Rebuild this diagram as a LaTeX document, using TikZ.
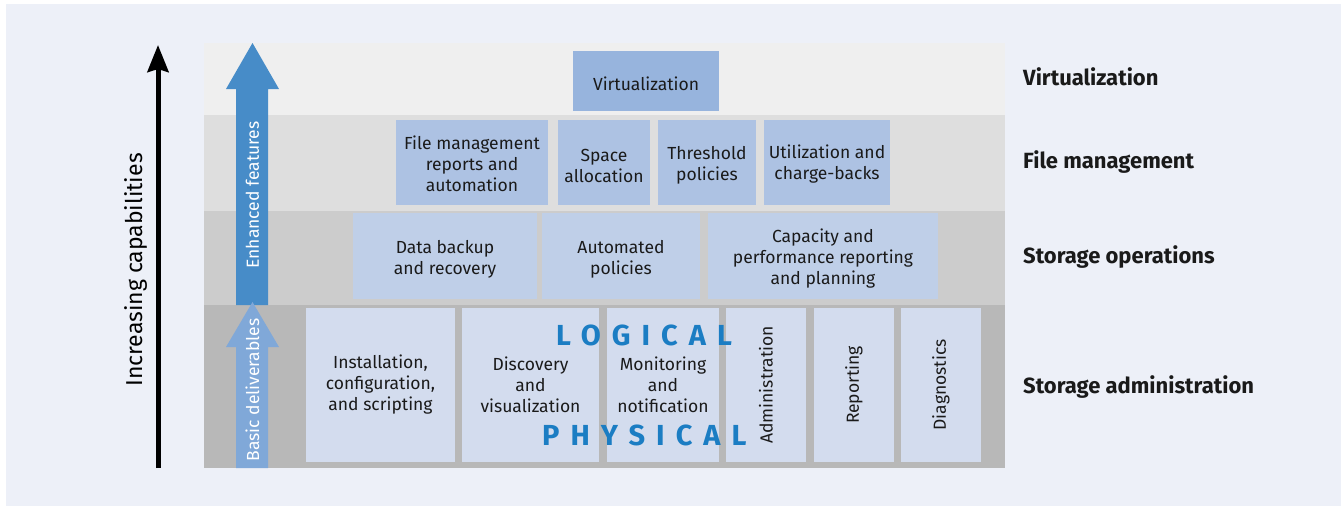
\documentclass[tikz,border=0pt]{standalone}
\usepackage{fontspec}
\setmainfont{Fira Sans}
\usetikzlibrary{arrows.meta}
\definecolor{panel}{HTML}{EDF0F8}
\definecolor{bandA}{HTML}{EFEFEF}
\definecolor{bandB}{HTML}{DEDEDE}
\definecolor{bandC}{HTML}{CCCCCC}
\definecolor{bandD}{HTML}{B8B8B8}
\definecolor{virtc}{HTML}{97B4DD}
\definecolor{fmc}{HTML}{ADC2E3}
\definecolor{soc}{HTML}{BFCFE8}
\definecolor{sac}{HTML}{D3DCEE}
\definecolor{enh}{HTML}{478CC8}
\definecolor{bas}{HTML}{80A8D8}
\definecolor{logic}{HTML}{1B7DC3}
\definecolor{txt}{HTML}{1A1A1A}
\newcommand\lowr{\rule{0pt}{19pt}}
\begin{document}
\begin{tikzpicture}[x=1pt,y=-1pt,
  boxtext/.style={inner sep=0pt, align=center, text=txt, font=\fontsize{17.5}{21}\selectfont},
  vbox/.style={boxtext, fill=virtc},
  fmbox/.style={boxtext, fill=fmc},
  sobox/.style={boxtext, fill=soc},
  sabox/.style={boxtext, fill=sac},
  layerlabel/.style={anchor=base west, inner sep=0pt, text=txt, font=\fontsize{22}{22}\selectfont\bfseries},
  arrowtext/.style={rotate=90, inner sep=0pt, text=white, font=\fontsize{17.5}{21}\selectfont},
  bigword/.style={anchor=base west, inner sep=0pt, text=logic, font=\fontsize{29}{29}\selectfont\bfseries\addfontfeatures{LetterSpace=38}}
]
\useasboundingbox (0,0) rectangle (1341,506);
\fill[white] (0,0) rectangle (1341,506);
\fill[panel] (6,4) rectangle (1341,506);
% bands
\fill[bandA] (204,43) rectangle (1005,115);
\fill[bandB] (204,115) rectangle (1005,211);
\fill[bandC] (204,211) rectangle (1005,305);
\fill[bandD] (204,305) rectangle (1005,468);
% block arrows
\fill[enh] (236,305) -- (236,89) -- (226,89) -- (252.5,43) -- (279,89) -- (268,89) -- (268,305) -- cycle;
\fill[bas] (236,468) -- (236,347) -- (226,347) -- (252.5,302) -- (279,347) -- (268,347) -- (268,468) -- cycle;
\node[arrowtext] (enht) at (252.5,195) {Enhanced features};
\node[arrowtext] (bast) at (252.5,390) {Basic deliverables};
% black arrow
\coordinate (capb) at (158,468);
\coordinate (capt) at (158,45);
\draw[line width=5pt, -{Stealth[width=21pt,length=27pt,inset=3pt]}] (capb) -- (capt);
\node[rotate=90, inner sep=0pt, text=black, font=\fontsize{23}{23}\selectfont] (incr) at (136,270) {Increasing capabilities};
% virtualization
\node[vbox, minimum width=146, minimum height=60] (virt) at (646,81) {\lowr Virtualization};
% file management
\node[fmbox, minimum width=152, minimum height=85] (fm1) at (472,162.5) {\rule{0pt}{16pt}File management\\reports and\\automation};
\node[fmbox, minimum width=92, minimum height=85] (fm2) at (604,162.5) {\lowr Space\\allocation};
\node[fmbox, minimum width=98, minimum height=85] (fm3) at (707,162.5) {\lowr Threshold\\policies};
\node[fmbox, minimum width=126, minimum height=85] (fm4) at (827,162.5) {\rule{0pt}{17pt}Utilization and\\charge-backs};
% storage operations
\node[sobox, minimum width=184, minimum height=86] (so1) at (445,256) {\lowr Data backup\\and recovery};
\node[sobox, minimum width=158, minimum height=86] (so2) at (621,256) {\lowr Automated\\policies};
\node[sobox, minimum width=230, minimum height=86] (so3) at (823,256) {\lowr Capacity and\\performance reporting\\and planning};
% storage administration
\node[sabox, minimum width=149, minimum height=154] (sa1) at (380.5,385) {Installation,\\configuration,\\and scripting};
\node[sabox, minimum width=137, minimum height=154] (sa2) at (530.5,385) {Discovery\\and\\visualization};
\node[sabox, minimum width=112, minimum height=154] (sa3) at (663,385) {Monitoring\\and\\notification};
\node[sabox, rotate=90, minimum width=154, minimum height=80] (sa4) at (766,385) {Administration};
\node[sabox, rotate=90, minimum width=154, minimum height=80] (sa5) at (854,385) {Reporting};
\node[sabox, rotate=90, minimum width=154, minimum height=80] (sa6) at (941,385) {Diagnostics};
% logical / physical
\node[bigword] (logical) at (556,345) {LOGICAL};
\node[bigword] (physical) at (542,445) {PHYSICAL};
% layer labels
\node[layerlabel] (lv) at (1023,85) {Virtualization};
\node[layerlabel] (lf) at (1023,168) {File management};
\node[layerlabel] (lo) at (1023,263) {Storage operations};
\node[layerlabel] (la) at (1023,393) {Storage administration};
\end{tikzpicture}
\end{document}
